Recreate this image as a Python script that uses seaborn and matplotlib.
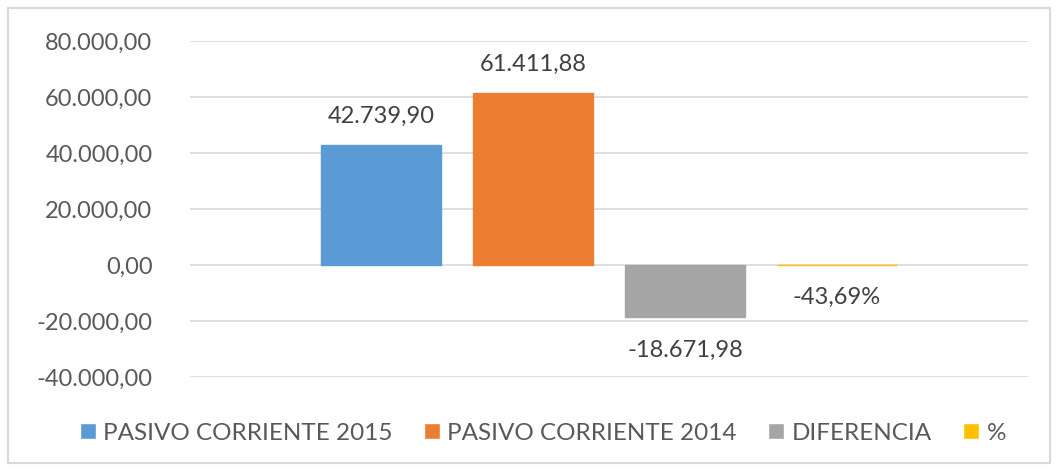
import pandas as pd
import matplotlib.pyplot as plt
import seaborn as sns
from matplotlib.patches import Rectangle, Patch
from matplotlib.ticker import FuncFormatter

# Data
series = ["PASIVO CORRIENTE 2015", "PASIVO CORRIENTE 2014", "DIFERENCIA", "%"]
values = [42739.90, 61411.88, -18671.98, -0.4369]
labels = ["42.739,90", "61.411,88", "-18.671,98", "-43,69%"]
colors = ["#5B9BD5", "#ED7D31", "#A5A5A5", "#FFC000"]

df = pd.DataFrame({"cat": ["x"] * 4, "serie": series, "valor": values})

sns.set_style("white")
plt.rcParams["font.family"] = ["Lato", "DejaVu Sans"]

fig = plt.figure(figsize=(10.58, 4.71), dpi=100)
ax = fig.add_axes([190 / 1058, 1 - 377 / 471, 838 / 1058, 336 / 471])

sns.barplot(data=df, x="cat", y="valor", hue="serie", palette=colors,
            width=0.7256, gap=0.21, ax=ax, legend=False, saturation=1)

# thin yellow bar (% value is tiny) -> give it an edge so it shows like in Excel
for bar, c in zip(ax.patches, colors):
    bar.set_edgecolor(c)
    bar.set_linewidth(1.0)

ax.set_xlim(-0.5, 0.5)
ax.set_ylim(-40000, 80000)
ax.set_yticks(range(-40000, 80001, 20000))


def fmt(v, pos):
    s = f"{v:,.2f}"
    return s.replace(",", "X").replace(".", ",").replace("X", ".")


ax.yaxis.set_major_formatter(FuncFormatter(fmt))
ax.tick_params(axis="y", labelsize=17, labelcolor="#595959", length=0, pad=27)
ax.set_xticks([])
ax.set_xlabel("")
ax.set_ylabel("")
ax.grid(axis="y", color="#D9D9D9", linewidth=1.2)
ax.set_axisbelow(True)
for s in ax.spines.values():
    s.set_visible(False)

# data labels
for bar, lab, v in zip(ax.patches, labels, values):
    cx = bar.get_x() + bar.get_width() / 2
    if v >= 0:
        ax.annotate(lab, (cx, v), xytext=(0, 13), textcoords="offset points",
                    ha="center", va="bottom", fontsize=17, color="#404040")
    else:
        ax.annotate(lab, (cx, v), xytext=(0, -16), textcoords="offset points",
                    ha="center", va="top", fontsize=17, color="#404040")

# legend
handles = [Patch(facecolor=c, label=s) for c, s in zip(colors, series)]
leg = fig.legend(handles=handles, loc="center", bbox_to_anchor=(543 / 1058, 1 - 433 / 471),
                 ncol=4, frameon=False, fontsize=17.5, handlelength=0.65, handleheight=0.65,
                 handletextpad=0.3, columnspacing=1.3)
for t in leg.get_texts():
    t.set_color("#595959")

# chart border
fig.patches.append(Rectangle((8 / 1058, 8 / 471), 1042 / 1058, 455 / 471,
                             transform=fig.transFigure, fill=False,
                             edgecolor="#D9D9D9", linewidth=1.5))

plt.savefig("out.png", dpi=100)
